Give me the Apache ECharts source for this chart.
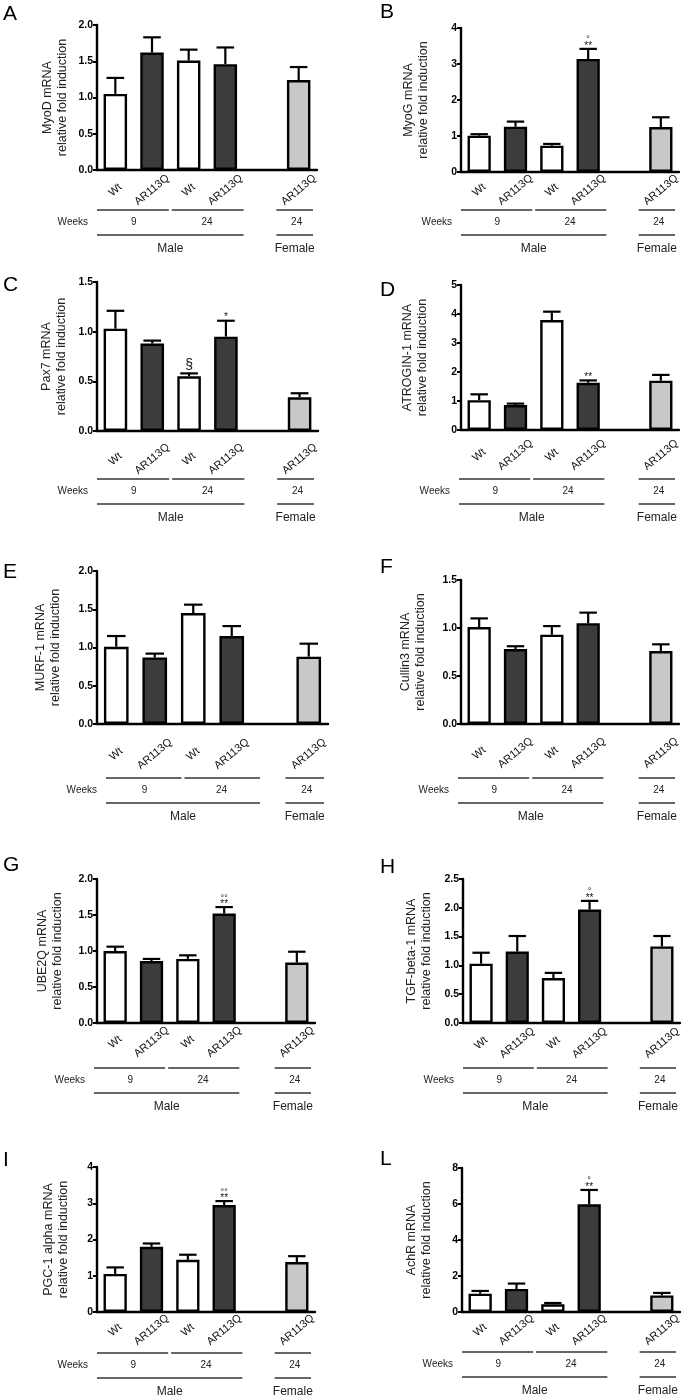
<!DOCTYPE html>
<html><head><meta charset="utf-8">
<script src="https://cdn.jsdelivr.net/npm/echarts@6/dist/echarts.min.js"></script>
<style>html,body{margin:0;padding:0;background:#fff}#c{width:685px;height:1399px}</style>
</head><body><div id="c"></div>
<script>
// ---------- DATA ----------
const categories = ['Wt', 'AR113Q', 'Wt', 'AR113Q', '', 'AR113Q'];
const panelLetters = ['A', 'B', 'C', 'D', 'E', 'F', 'G', 'H', 'I', 'L'];
const geneNames = ['MyoD mRNA', 'MyoG mRNA', 'Pax7 mRNA', 'ATROGIN-1 mRNA', 'MURF-1 mRNA',
  'Cullin3 mRNA', 'UBE2Q mRNA', 'TGF-beta-1 mRNA', 'PGC-1 alpha mRNA', 'AchR mRNA'];
const yAxisSubtitle = 'relative fold induction';
const yMax = [2, 4, 1.5, 5, 2, 1.5, 2, 2.5, 4, 8];
const yStep = [0.5, 1, 0.5, 1, 0.5, 0.5, 0.5, 0.5, 1, 2];
const yDecimals = [1, 0, 1, 0, 1, 1, 1, 1, 0, 0];
const weeksTitle = 'Weeks';
const weeksLabels = ['9', '24', '24'];
const sexLabels = ['Male', 'Female'];

const meanMyoD = [1.05, 1.62, 1.51, 1.46, null, 1.24];
const semMyoD = [0.22, 0.21, 0.15, 0.23, null, 0.18];
const meanMyoG = [1.01, 1.26, 0.73, 3.14, null, 1.25];
const semMyoG = [0.04, 0.14, 0.05, 0.28, null, 0.27];
const meanPax7 = [1.03, 0.88, 0.55, 0.95, null, 0.34];
const semPax7 = [0.18, 0.03, 0.03, 0.16, null, 0.04];
const meanAtrogin = [1.03, 0.86, 3.79, 1.63, null, 1.70];
const semAtrogin = [0.20, 0.05, 0.29, 0.08, null, 0.20];
const meanMurf = [1.01, 0.87, 1.45, 1.15, null, 0.88];
const semMurf = [0.14, 0.05, 0.11, 0.13, null, 0.17];
const meanCullin = [1.01, 0.78, 0.93, 1.05, null, 0.76];
const semCullin = [0.09, 0.03, 0.09, 0.11, null, 0.07];
const meanUbe2q = [1.00, 0.86, 0.89, 1.52, null, 0.84];
const semUbe2q = [0.06, 0.03, 0.05, 0.09, null, 0.15];
const meanTgf = [1.03, 1.24, 0.78, 1.97, null, 1.33];
const semTgf = [0.19, 0.27, 0.09, 0.15, null, 0.18];
const meanPgc = [1.05, 1.80, 1.44, 2.95, null, 1.38];
const semPgc = [0.18, 0.09, 0.14, 0.11, null, 0.16];
const meanAchr = [1.02, 1.28, 0.43, 5.98, null, 0.92];
const semAchr = [0.15, 0.30, 0.07, 0.80, null, 0.14];

const noMarks = ['', '', '', '', '', ''];
const starsMyoG = ['', '', '', '**', '', ''];
const circlesMyoG = ['', '', '', '°', '', ''];
const starsPax7 = ['', '', '§', '*', '', ''];
const starsAtrogin = ['', '', '', '**', '', ''];
const starsUbe2q = ['', '', '', '**', '', ''];
const circlesUbe2q = ['', '', '', '°°', '', ''];
const starsTgf = ['', '', '', '**', '', ''];
const circlesTgf = ['', '', '', '°', '', ''];
const starsPgc = ['', '', '', '**', '', ''];
const circlesPgc = ['', '', '', '°°', '', ''];
const starsAchr = ['', '', '', '**', '', ''];
const circlesAchr = ['', '', '', '°', '', ''];

const panelMeans = [meanMyoD, meanMyoG, meanPax7, meanAtrogin, meanMurf, meanCullin, meanUbe2q, meanTgf, meanPgc, meanAchr];
const panelSems = [semMyoD, semMyoG, semPax7, semAtrogin, semMurf, semCullin, semUbe2q, semTgf, semPgc, semAchr];
const panelStars = [noMarks, starsMyoG, starsPax7, starsAtrogin, noMarks, noMarks, starsUbe2q, starsTgf, starsPgc, starsAchr];
const panelCircles = [noMarks, circlesMyoG, noMarks, noMarks, noMarks, noMarks, circlesUbe2q, circlesTgf, circlesPgc, circlesAchr];

// ---------- LAYOUT / STYLE ----------
const FONT = '"Liberation Sans", Arial, sans-serif';
const fills = ['#ffffff', '#3c3c3c', '#ffffff', '#3c3c3c', '#ffffff', '#c8c8c8'];
const layout = [
  {left: 97, top: 25, width: 220, height: 145, nameGap: 27, labelMargin: 20, lineGap: 40, dx: 0, lx: 3, ly: 4},
  {left: 461, top: 28, width: 218, height: 144, nameGap: 30, labelMargin: 18, lineGap: 38, dx: 0, lx: 380, ly: 2},
  {left: 97, top: 282, width: 221, height: 149, nameGap: 28, labelMargin: 28, lineGap: 48, dx: 0, lx: 3, ly: 275},
  {left: 461, top: 285, width: 218, height: 145, nameGap: 31, labelMargin: 25, lineGap: 49, dx: -2, lx: 380, ly: 280},
  {left: 97, top: 571, width: 231, height: 153, nameGap: 34, labelMargin: 30, lineGap: 54, dx: 9, lx: 3, ly: 562},
  {left: 461, top: 580, width: 218, height: 144, nameGap: 33, labelMargin: 29, lineGap: 54, dx: -3, lx: 380, ly: 557},
  {left: 97, top: 879, width: 218, height: 144, nameGap: 32, labelMargin: 19, lineGap: 45, dx: -3, lx: 3, ly: 855},
  {left: 463, top: 879, width: 217, height: 144, nameGap: 29, labelMargin: 20, lineGap: 45, dx: 0, lx: 380, ly: 857},
  {left: 97, top: 1167, width: 218, height: 145, nameGap: 26, labelMargin: 18, lineGap: 41, dx: 0, lx: 3, ly: 1150},
  {left: 462, top: 1168, width: 218, height: 144, nameGap: 28, labelMargin: 18, lineGap: 40, dx: 0, lx: 380, ly: 1149}
];

const chart = echarts.init(document.getElementById('c'), null, {renderer: 'canvas'});

const grids = [], xAxes = [], yAxes = [], series = [];
layout.forEach((L, i) => {
  grids.push({left: L.left, top: L.top, width: L.width, height: L.height, containLabel: false, outerBoundsMode: 'none'});
  xAxes.push({
    type: 'category', gridIndex: i, data: categories,
    axisLine: {show: true, onZero: true, lineStyle: {color: '#000', width: 2.4}},
    axisTick: {show: false},
    axisLabel: {interval: 0, rotate: 40, align: 'center', verticalAlign: 'middle', margin: L.labelMargin,
      fontSize: 11, color: '#111', fontFamily: FONT},
    splitLine: {show: false}
  });
  yAxes.push({
    type: 'value', gridIndex: i, min: 0, max: yMax[i], interval: yStep[i],
    axisLine: {show: true, lineStyle: {color: '#000', width: 2.4}},
    axisTick: {show: true, length: 4, lineStyle: {color: '#000', width: 2}},
    axisLabel: {fontWeight: 'bold', fontSize: 10.5, color: '#000', margin: 4, fontFamily: FONT,
      formatter: v => Number(v).toFixed(yDecimals[i])},
    splitLine: {show: false},
    name: geneNames[i] + '\n' + yAxisSubtitle, nameLocation: 'middle', nameRotate: 90, nameGap: L.nameGap,
    nameTextStyle: {fontSize: 12.5, lineHeight: 15, color: '#222', fontFamily: FONT}
  });
  const means = panelMeans[i], sems = panelSems[i], stars = panelStars[i], circles = panelCircles[i];
  series.push({
    type: 'bar', xAxisIndex: i, yAxisIndex: i, barWidth: '64%', animation: false,
    data: means.map((v, j) => v == null ? '-' : {value: v, itemStyle: {color: fills[j]}}),
    itemStyle: {borderColor: '#000', borderWidth: 2.4}
  });
  const errData = [];
  means.forEach((v, j) => { if (v != null) errData.push([j, v, sems[j]]); });
  series.push({
    type: 'custom', xAxisIndex: i, yAxisIndex: i, clip: false, animation: false, z: 3,
    data: errData,
    renderItem: (params, api) => {
      const j = api.value(0), v = api.value(1), e = api.value(2);
      const p0 = api.coord([j, v]);
      const p1 = api.coord([j, v + e]);
      const hw = api.size([1, 0])[0] * 0.24;
      const ch = [
        {type: 'line', shape: {x1: p0[0], y1: p0[1], x2: p1[0], y2: p1[1]}, style: {stroke: '#000', lineWidth: 2.2}},
        {type: 'line', shape: {x1: p0[0] - hw, y1: p1[1], x2: p0[0] + hw, y2: p1[1]}, style: {stroke: '#000', lineWidth: 2.2}}
      ];
      const s = stars[j];
      if (s) {
        const big = s === '§';
        ch.push({type: 'text', x: p0[0], y: p1[1] - (big ? 8 : 3),
          style: {text: s, font: (big ? '14px ' : '10px ') + FONT, fill: '#111', align: 'center', verticalAlign: 'middle'}});
      }
      const c = circles[j];
      if (c) {
        ch.push({type: 'text', x: p0[0], y: p1[1] - 9,
          style: {text: c, font: '9px ' + FONT, fill: '#111', align: 'center', verticalAlign: 'middle'}});
      }
      return {type: 'group', children: ch};
    }
  });
});

chart.setOption({
  backgroundColor: '#fff',
  animation: false,
  grid: grids, xAxis: xAxes, yAxis: yAxes, series: series
});

// ---------- group annotations below axes, positioned via the axes' own scales ----------
const graphics = [];
const lineStyle = {stroke: '#333', lineWidth: 1.5};
function hline(x1, x2, y) {
  graphics.push({type: 'line', shape: {x1, y1: y, x2, y2: y}, style: lineStyle, silent: true});
}
function txt(text, x, y, size, align) {
  graphics.push({type: 'text', x, y, silent: true,
    style: {text, font: size + 'px ' + FONT, fill: '#222', align: align || 'center', verticalAlign: 'middle'}});
}
layout.forEach((L, i) => {
  graphics.push({type: 'text', x: L.lx, y: L.ly, silent: true,
    style: {text: panelLetters[i], font: '21px ' + FONT, fill: '#000', align: 'left', verticalAlign: 'top'}});
  const c0 = chart.convertToPixel({xAxisIndex: i}, 0);
  const c1 = chart.convertToPixel({xAxisIndex: i}, 1);
  const bw = c1 - c0;
  const edge = k => c0 - bw / 2 + k * bw;
  const axisY = chart.convertToPixel({yAxisIndex: i}, 0);
  const d = L.dx;
  const y1 = axisY + L.lineGap, yW = y1 + 12, y2 = y1 + 25, yM = y1 + 39;
  const fL = edge(5) - 4, fR = edge(6) - 4, fC = (fL + fR) / 2;
  hline(edge(0) + d, edge(2) + d - 1.5, y1);
  hline(edge(2) + d + 1.5, edge(4) + d, y1);
  hline(fL, fR, y1);
  hline(edge(0) + d, edge(4) + d, y2);
  hline(fL, fR, y2);
  txt(weeksTitle, edge(0) - 9 + d, yW, 10, 'right');
  txt(weeksLabels[0], (edge(0) + edge(2)) / 2 + d, yW, 10);
  txt(weeksLabels[1], (edge(2) + edge(4)) / 2 + d, yW, 10);
  txt(weeksLabels[2], fC + 2, yW, 10);
  txt(sexLabels[0], (edge(0) + edge(4)) / 2 + d, yM, 12);
  txt(sexLabels[1], fC, yM, 12);
});
chart.setOption({graphic: graphics});
</script></body></html>
